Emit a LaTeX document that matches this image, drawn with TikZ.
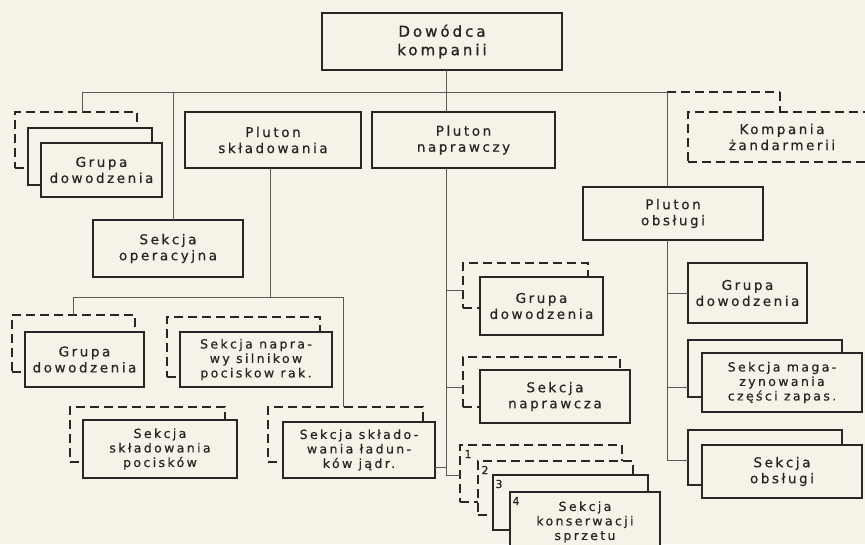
\documentclass[tikz,border=0pt]{standalone}
\usepackage{fontspec}
\newfontfamily\lab[LetterSpace=19,FakeBold=0.6]{DejaVu Sans}
\newfontfamily\hdr[LetterSpace=20,FakeBold=1.2]{DejaVu Sans}
\definecolor{paper}{RGB}{245,243,231}
\definecolor{ink}{RGB}{38,38,36}
\definecolor{wire}{RGB}{90,90,85}

\begin{document}
\begin{tikzpicture}[x=1pt,y=-1pt,
  unit/.style={draw=ink, line width=1.8pt, fill=paper, inner sep=0pt, outer sep=0pt,
    align=center, anchor=north west, text=ink,
    font=\lab\fontsize{13.5}{16}\selectfont},
  tight/.style={font=\lab\fontsize{12.5}{14.5}\selectfont},
  ghost/.style={unit, dash pattern=on 9pt off 5pt},
  head/.style={unit, line width=2.8pt, font=\hdr\fontsize{15}{18.5}\selectfont},
  num/.style={inner sep=0pt, text=ink, font=\lab\fontsize{11}{11}\selectfont},
  wire/.style={draw=wire, line width=0.8pt},
  ghostwire/.style={wire, line width=1.4pt, draw=ink, dash pattern=on 9pt off 5pt}]

% paper
\fill[paper] (0,0) rectangle (865,544);
\useasboundingbox (0,0) rectangle (865,544);

% junction points of the connecting lines
\coordinate (bL)  at (82,92);
\coordinate (bS)  at (173,92);
\coordinate (tx)  at (446,92);
\coordinate (bR)  at (667,92);
\coordinate (bD)  at (780,92);
\coordinate (lL)  at (73,297);
\coordinate (lR)  at (343,297);

% connectors (drawn first, boxes sit on top)
\draw[wire] (bL) -- (bR);
\draw[ghostwire] (bR) -- (bD);
\draw[wire] (lL) -- (lR);

% ---------- boxes ----------
\node[head, minimum width=240pt, minimum height=57pt] (dow) at (322,13) {Dowódca\\kompanii};

% command group, upper left
\node[ghost, minimum width=122pt, minimum height=56pt] (gA1) at (15,112) {};
\node[unit,  minimum width=124pt, minimum height=57pt] (gA2) at (28,128) {};
\node[unit,  minimum width=121pt, minimum height=54pt] (gA)  at (41,143) {Grupa\\dowodzenia};

\node[unit, minimum width=176pt, minimum height=56pt] (psk)  at (185,112) {Pluton\\składowania};
\node[unit, minimum width=183pt, minimum height=56pt] (pnap) at (372,112) {Pluton\\naprawczy};
\node[ghost, minimum width=200pt, minimum height=50pt] (kz)  at (688,112) {};
\node[inner sep=0pt, align=center, text=ink, font=\lab\fontsize{13.5}{16}\selectfont] (kzt) at (782,137) {Kompania\\żandarmerii};

\node[unit, minimum width=150pt, minimum height=57pt] (sop) at (93,220)  {Sekcja\\operacyjna};
\node[unit, minimum width=180pt, minimum height=53pt] (pob) at (583,187) {Pluton\\obsługi};

% storage platoon sections
\node[ghost, minimum width=123pt, minimum height=57pt] (gB1) at (12,315) {};
\node[unit,  minimum width=119pt, minimum height=55pt] (gB)  at (25,332) {Grupa\\dowodzenia};

\node[ghost, minimum width=153pt, minimum height=60pt] (sil1) at (167,317) {};
\node[unit, tight, minimum width=152pt, minimum height=55pt] (sil) at (180,332) {Sekcja napra-\\wy silnikow\\pociskow rak.};

\node[ghost, minimum width=155pt, minimum height=55pt] (poc1) at (70,407) {};
\node[unit, tight, minimum width=154pt, minimum height=58pt] (poc) at (83,420) {Sekcja\\składowania\\pocisków};

\node[ghost, minimum width=155pt, minimum height=55pt] (lad1) at (268,407) {};
\node[unit, tight, minimum width=152pt, minimum height=56pt] (lad) at (283,422) {Sekcja składo-\\wania ładun-\\ków jądr.};

% repair platoon sections
\node[ghost, minimum width=125pt, minimum height=45pt] (gM1) at (463,263) {};
\node[unit,  minimum width=123pt, minimum height=58pt] (gM)  at (480,277) {Grupa\\dowodzenia};

\node[ghost, minimum width=157pt, minimum height=50pt] (nap1) at (463,357) {};
\node[unit,  minimum width=150pt, minimum height=53pt] (nap)  at (480,370) {Sekcja\\naprawcza};

\node[ghost, minimum width=162pt, minimum height=57pt] (k1) at (460,445) {};
\node[ghost, minimum width=155pt, minimum height=54pt] (k2) at (478,461) {};
\node[unit,  minimum width=155pt, minimum height=55pt] (k3) at (493,475) {};
\node[unit, tight, minimum width=150pt, minimum height=60pt] (k4) at (510,492) {Sekcja\\konserwacji\\sprzetu};
\node[num] (n1) at (468,454) {1};
\node[num] (n2) at (485,470) {2};
\node[num] (n3) at (499,484) {3};
\node[num] (n4) at (516,501) {4};

% service platoon sections
\node[unit, minimum width=119pt, minimum height=60pt] (gR) at (688,263) {Grupa\\dowodzenia};

\node[unit, minimum width=154pt, minimum height=57pt] (mag1) at (688,340) {};
\node[unit, tight, minimum width=160pt, minimum height=59pt] (mag) at (702,353) {Sekcja maga-\\zynowania\\części zapas.};

\node[unit, minimum width=154pt, minimum height=55pt] (ob1) at (688,430) {};
\node[unit, minimum width=160pt, minimum height=53pt] (ob)  at (702,445) {Sekcja\\obsługi};

% ---------- connectors ----------
\draw[wire] (tx |- dow.south) -- (tx |- pnap.north);
\draw[ghostwire] (bD) -- (bD |- kz.north);
\draw[wire] (bL) -- (bL |- gA1.north);
\draw[wire] (bS) -- (bS |- sop.north);
\draw[wire] (bR) -- (bR |- pob.north);

% storage platoon
\draw[wire] (psk.south -| 270,0) -- (270,297);
\draw[wire] (lL) -- (lL |- gB1.north);
\draw[wire] (lR) -- (lR |- lad1.north);
\draw[wire] (lad.east |- 0,467) -- (446,467);

% repair platoon
\draw[wire] (tx |- pnap.south) -- (446,475) -- (k1.west |- 0,475);
\draw[wire] (446,290) -- (gM1.west |- 0,290);
\draw[wire] (446,387) -- (nap1.west |- 0,387);

% service platoon
\draw[wire] (bR |- pob.south) -- (667,460) -- (ob1.west |- 0,460);
\draw[wire] (667,293) -- (gR.west |- 0,293);
\draw[wire] (667,387) -- (mag1.west |- 0,387);
\end{tikzpicture}
\end{document}
